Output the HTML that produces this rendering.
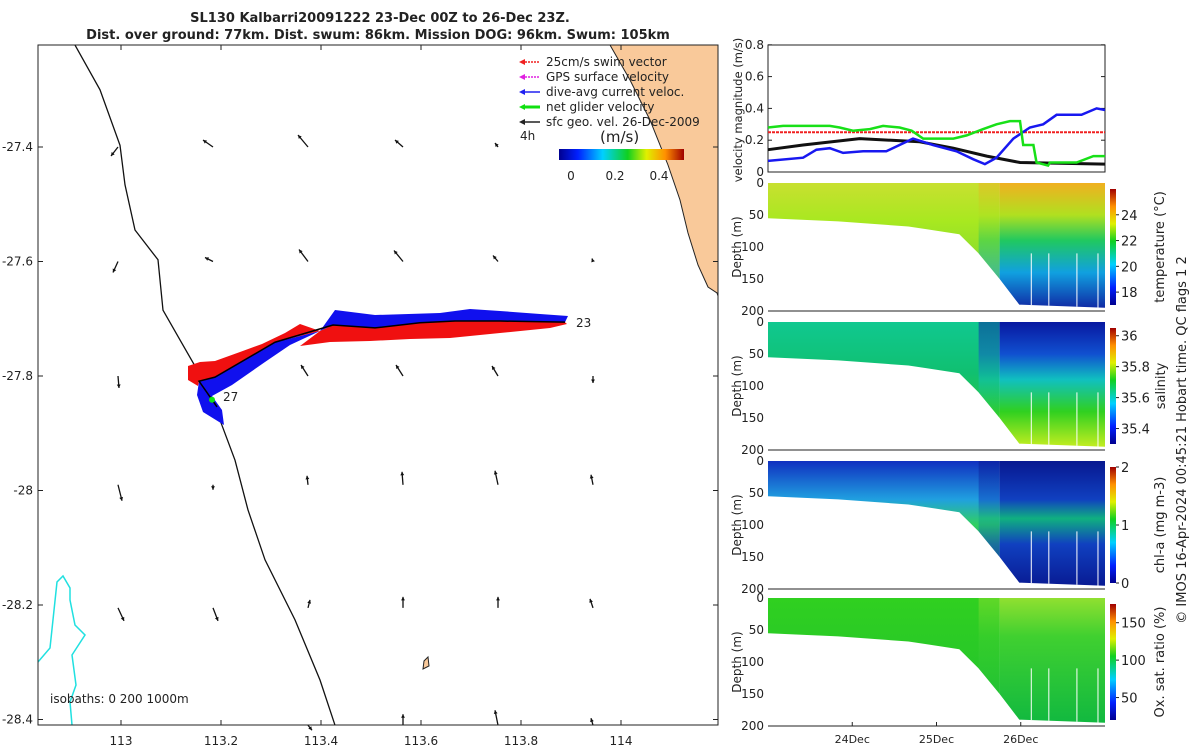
<!DOCTYPE html>
<html><head><meta charset="utf-8">
<style>
html,body{margin:0;padding:0;background:#fff;}
svg text{font-family:"DejaVu Sans","Liberation Sans",sans-serif;fill:#222;}
</style></head>
<body>
<svg id="root" width="1200" height="750" xmlns="http://www.w3.org/2000/svg">
<defs>
<linearGradient id="jet" x1="0" y1="1" x2="0" y2="0">
<stop offset="0" stop-color="#00008f"/><stop offset="0.15" stop-color="#0020ff"/><stop offset="0.35" stop-color="#00d0ff"/><stop offset="0.55" stop-color="#10d020"/><stop offset="0.7" stop-color="#e0f000"/><stop offset="0.85" stop-color="#ff9000"/><stop offset="1" stop-color="#a00000"/>
</linearGradient>
<linearGradient id="jeth" x1="0" y1="0" x2="1" y2="0">
<stop offset="0" stop-color="#00008f"/><stop offset="0.15" stop-color="#0020ff"/><stop offset="0.35" stop-color="#00d0ff"/><stop offset="0.55" stop-color="#10d020"/><stop offset="0.7" stop-color="#e0f000"/><stop offset="0.85" stop-color="#ff9000"/><stop offset="1" stop-color="#a00000"/>
</linearGradient>
<linearGradient id="tempL" x1="0" y1="0" x2="0" y2="1"><stop offset="0" stop-color="#c8e030"/><stop offset="0.3" stop-color="#a8e820"/><stop offset="1" stop-color="#60d040"/></linearGradient>
<linearGradient id="tempR" x1="0" y1="0" x2="0" y2="1"><stop offset="0" stop-color="#f0b020"/><stop offset="0.25" stop-color="#b0e020"/><stop offset="0.45" stop-color="#20c860"/><stop offset="0.7" stop-color="#10a0e0"/><stop offset="1" stop-color="#1020a0"/></linearGradient>
<linearGradient id="salL" x1="0" y1="0" x2="0" y2="1"><stop offset="0" stop-color="#10c890"/><stop offset="0.4" stop-color="#10c070"/><stop offset="1" stop-color="#40d020"/></linearGradient>
<linearGradient id="salR" x1="0" y1="0" x2="0" y2="1"><stop offset="0" stop-color="#0818a0"/><stop offset="0.25" stop-color="#1050d0"/><stop offset="0.45" stop-color="#10c0c0"/><stop offset="0.7" stop-color="#30d020"/><stop offset="1" stop-color="#d0f020"/></linearGradient>
<linearGradient id="chlL" x1="0" y1="0" x2="0" y2="1"><stop offset="0" stop-color="#1030c0"/><stop offset="0.3" stop-color="#20a0e0"/><stop offset="0.5" stop-color="#30d060"/><stop offset="1" stop-color="#0830b0"/></linearGradient>
<linearGradient id="chlR" x1="0" y1="0" x2="0" y2="1"><stop offset="0" stop-color="#081890"/><stop offset="0.3" stop-color="#1040c0"/><stop offset="0.45" stop-color="#10b080"/><stop offset="0.65" stop-color="#1040c0"/><stop offset="1" stop-color="#081890"/></linearGradient>
<linearGradient id="oxL" x1="0" y1="0" x2="0" y2="1"><stop offset="0" stop-color="#30d020"/><stop offset="1" stop-color="#20c030"/></linearGradient>
<linearGradient id="oxR" x1="0" y1="0" x2="0" y2="1"><stop offset="0" stop-color="#90e030"/><stop offset="0.3" stop-color="#40d030"/><stop offset="1" stop-color="#10b840"/></linearGradient>
</defs>
<text x="380" y="22" text-anchor="middle" font-size="13" font-weight="bold">SL130 Kalbarri20091222 23-Dec 00Z to 26-Dec 23Z.</text>
<text x="378" y="39" text-anchor="middle" font-size="13" font-weight="bold">Dist. over ground: 77km. Dist. swum: 86km. Mission DOG: 96km. Swum: 105km</text>
<g id="map"></g>
<g id="vel"></g>
<g id="sections"></g>
<text transform="translate(1186,440) rotate(-90)" text-anchor="middle" font-size="13">© IMOS 16-Apr-2024 00:45:21 Hobart time. QC flags 1  2</text>
</svg>
<script>
// ---------- data ----------
const mapXTicks=[113,113.2,113.4,113.6,113.8,114];
const mapYTicks=[-27.4,-27.6,-27.8,-28,-28.2,-28.4];
const coastLon=[112.908,112.958,112.998,113.008,113.028,113.074,113.084,113.118,113.158,113.198,113.228,113.254,113.288,113.348,113.398,113.428];
const coastLat=[-27.222,-27.300,-27.397,-27.466,-27.545,-27.597,-27.685,-27.737,-27.798,-27.877,-27.947,-28.034,-28.121,-28.226,-28.331,-28.410];
const trackLon=[113.888,113.758,113.668,113.598,113.508,113.424,113.308,113.188,113.156,113.168,113.192];
const trackLat=[-27.706,-27.704,-27.704,-27.707,-27.716,-27.711,-27.741,-27.802,-27.809,-27.824,-27.854];
const vecLon=[112.994,113.184,113.374,113.564,113.754, 112.994,113.184,113.374,113.564,113.754,113.944, 112.994,113.374,113.564,113.754,113.944, 112.994,113.184,113.374,113.564,113.754,113.944, 112.994,113.184,113.374,113.564,113.754,113.944, 113.374,113.564,113.754,113.944];
const vecLat=[-27.4,-27.4,-27.4,-27.4,-27.4,-27.6,-27.6,-27.6,-27.6,-27.6,-27.6,-27.8,-27.8,-27.8,-27.8,-27.8,-27.99,-27.99,-27.99,-27.99,-27.99,-27.99,-28.205,-28.205,-28.205,-28.205,-28.205,-28.205,-28.41,-28.41,-28.41,-28.41];
const vecU=[-0.07,-0.10,-0.10,-0.08,-0.03,-0.05,-0.08,-0.09,-0.09,-0.05,-0.01,0.01,-0.07,-0.07,-0.06,0,0.04,0,-0.01,-0.01,-0.03,-0.02,0.06,0.05,0.02,0,0,-0.03,0.04,0,-0.03,-0.02];
const vecV=[-0.09,0.07,0.12,0.07,0.04,-0.11,0.04,0.12,0.11,0.06,0.03,-0.12,0.11,0.11,0.10,-0.07,-0.16,-0.05,0.09,0.13,0.14,0.10,-0.13,-0.13,0.08,0.11,0.11,0.09,-0.05,0.11,0.15,0.07];
const velTicks=[0,0.2,0.4,0.6,0.8];
const dayTicks=["24Dec","25Dec","26Dec"];
const dayHours=[24,48,72];
const greenH=[0,4.3,10,17.6,20.4,24.2,29,32.8,37.5,40.9,44.2,52.8,56.6,61.3,65.1,68.9,71.8,72.7,75.6,76.5,79.8,80.3,87.9,92.7,96];
const greenV=[0.28,0.29,0.29,0.29,0.28,0.26,0.27,0.29,0.28,0.26,0.21,0.21,0.23,0.27,0.30,0.32,0.32,0.17,0.17,0.06,0.04,0.06,0.06,0.10,0.10];
const blueH=[0,10,13.8,17.6,21.4,27.1,33.7,41.3,47,53.7,58.5,61.8,65.1,69.9,74.6,78.4,82.2,89.3,93.6,96];
const blueV=[0.07,0.09,0.14,0.15,0.12,0.13,0.13,0.21,0.17,0.13,0.08,0.05,0.09,0.21,0.28,0.30,0.36,0.36,0.40,0.39];
const blackH=[0,10,26.1,43.2,52.8,62.3,71.8,96];
const blackV=[0.14,0.17,0.21,0.19,0.15,0.10,0.06,0.05];
const swimSpeed=0.25;
const bottomH=[0,20,40,45,54.5,60,66,71.6,96];
const bottomD=[55,60,68,72,80,110,150,190,195];
const depthTicks=[0,50,100,150,200];
const panelLabels=["temperature (°C)","salinity","chl-a (mg m-3)","Ox. sat. ratio (%)"];
const cbTicks=[[18,20,22,24],[35.4,35.6,35.8,36],[0,1,2],[50,100,150]];
const cbRange=[[17,26],[35.3,36.05],[0,2],[20,175]];
const panelFill=[["tempL","tempR"],["salL","salR"],["chlL","chlR"],["oxL","oxR"]];
// ---------- helpers ----------
const NS="http://www.w3.org/2000/svg";
function mk(tag,attrs,parent){const e=document.createElementNS(NS,tag);for(const k in attrs)e.setAttribute(k,attrs[k]);parent.appendChild(e);return e;}
const lx=lon=>121+(lon-113)*500;
const ly=lat=>147-(lat+27.4)*572.5;
const VX0=768,VX1=1105;
const tx=h=>VX0+(VX1-VX0)*h/96;
const vy=v=>172-v*159;
// ---------- map ----------
const map=document.getElementById('map');
const land=mk('path',{d:"M610,45 L630,80 L650,120 L668,165 L680,200 L688,233 L698,265 L708,287 L717,293 L718,296 L718,45 Z",fill:"#f9c99a",stroke:"#222","stroke-width":1},map);


const iso=mk('path',{d:"M38,662 L50,648 L57,582 L63,576 L70,588 L70,600 L75,625 L85,635 L72,655 L76,685 L70,702 L72,725",fill:"none",stroke:"#20e0e0","stroke-width":1.5},map);


const island=mk('path',{d:"M424,661 L428,657 L429,666 L423,669 Z",fill:"#f9c99a",stroke:"#222"},map);


let cd="";coastLon.forEach((v,i)=>cd+=(i?"L":"M")+lx(v)+","+ly(coastLat[i]));
const coast=mk('path',{d:cd,fill:"none",stroke:"#111","stroke-width":1.3},map);


// track bands (decoration shapes relative to track)
const TP=trackLon.map((v,i)=>[lx(v),ly(trackLat[i])]);
function poly(pts,color,name){const p=mk('path',{d:"M"+pts.map(q=>q[0].toFixed(1)+","+q[1].toFixed(1)).join("L")+"Z",fill:color},map);
 
 }
const cross=[320,331];
poly([...TP.slice(0,6),cross,[335,310],[375,315],[440,313],[470,309],[500,311],[540,314],[568,316]],"#1010ee","dive-avg-current-band-east");
poly([cross,TP[6],TP[7],TP[8],[197,395],[203,412],[224,425],[222,410],[212,396],[232,385],[265,362],[290,345]],"#1010ee","dive-avg-current-band-west");
let redE=[...TP.slice(0,6),cross,[300,346],[330,342],[370,341],[410,339],[450,338],[500,333],[550,328],[567,324]];
poly(redE,"#f01010","swim-vector-band-east");
poly([cross,TP[6],TP[7],TP[8],[198,386],[188,380],[188,366],[200,362],[215,361],[240,352],[262,344],[285,333],[300,324]],"#f01010","swim-vector-band-west");
let td="";TP.forEach((q,i)=>td+=(i?"L":"M")+q[0]+","+q[1]);
const tr=mk('path',{d:td,fill:"none",stroke:"#000","stroke-width":1.5},map);


const gs=mk('circle',{cx:TP[9][0]+7,cy:TP[9][1]+10,r:3,fill:"#10e010"},map);


[["23",576,327],["27",223,401]].forEach(t=>{const e=mk('text',{x:t[1],y:t[2],"font-size":12},map);e.textContent=t[0];
 
 });
// vectors
vecLon.forEach((lon,i)=>{const x0=lx(lon),y0=ly(vecLat[i]);const x1=x0+vecU[i]*100,y1=y0-vecV[i]*100;
 const g=mk('g',{},map);
 
 
 mk('line',{x1:x0,y1:y0,x2:x1,y2:y1,stroke:"#111","stroke-width":1.3},g);
 const a=Math.atan2(y1-y0,x1-x0);
 mk('path',{d:`M${x1},${y1}L${x1-4*Math.cos(a-0.5)},${y1-4*Math.sin(a-0.5)}L${x1-4*Math.cos(a+0.5)},${y1-4*Math.sin(a+0.5)}Z`,fill:"#111"},g);});
// axes box
const mb=mk('rect',{x:38,y:45,width:680,height:680,fill:"none",stroke:"#222","stroke-width":1},map);


mapXTicks.forEach(t=>{const x=lx(t);mk('line',{x1:x,x2:x,y1:725,y2:720,stroke:"#222"},map);mk('line',{x1:x,x2:x,y1:45,y2:50,stroke:"#222"},map);
 const e=mk('text',{x:x,y:745,"text-anchor":"middle","font-size":12},map);e.textContent=String(t);
 
 });
mapYTicks.forEach(t=>{const y=ly(t);mk('line',{x1:38,x2:43,y1:y,y2:y,stroke:"#222"},map);mk('line',{x1:718,x2:713,y1:y,y2:y,stroke:"#222"},map);
 const e=mk('text',{x:33,y:y+4,"text-anchor":"end","font-size":12},map);e.textContent=String(t);
 
 });
const isoT=mk('text',{x:50,y:703,"font-size":12},map);isoT.textContent="isobaths: 0   200  1000m";


// legend
const legItems=[["25cm/s swim vector","#f02020"],["GPS surface velocity","#e020e0"],["dive-avg current veloc.","#2020f0"],["net glider velocity","#10e010"],["sfc geo. vel. 26-Dec-2009","#222"]];
legItems.forEach((it,i)=>{const y=62+i*15;const g=mk('g',{},map);
 
 
 mk('line',{x1:522,x2:540,y1:y,y2:y,stroke:it[1],"stroke-width":i==3?3:1.5,"stroke-dasharray":i<2?"2,1":""},g);
 mk('path',{d:`M519,${y}L525,${y-3}L525,${y+3}Z`,fill:it[1]},g);
 const t=mk('text',{x:546,y:y+4,"font-size":12},g);t.textContent=it[0];});
const t4=mk('text',{x:520,y:140,"font-size":12},map);t4.textContent="4h";


const cbm=mk('rect',{x:559,y:149,width:125,height:11,fill:"url(#jeth)"},map);


const ms=mk('text',{x:600,y:142,"font-size":15},map);ms.textContent="(m/s)";


[["0",571],["0.2",615],["0.4",659]].forEach(a=>{const e=mk('text',{x:a[1],y:180,"text-anchor":"middle","font-size":12},map);e.textContent=a[0];
 
 });
// ---------- velocity panel ----------
const vel=document.getElementById('vel');
const vb=mk('rect',{x:VX0,y:45,width:VX1-VX0,height:127,fill:"#fff",stroke:"#222"},vel);


velTicks.forEach(t=>{const y=vy(t);mk('line',{x1:VX0,x2:VX0+4,y1:y,y2:y,stroke:"#222"},vel);mk('line',{x1:VX1,x2:VX1-4,y1:y,y2:y,stroke:"#222"},vel);
 const e=mk('text',{x:VX0-4,y:y+4,"text-anchor":"end","font-size":12},vel);e.textContent=String(t);
 
 });
const vyl=mk('text',{transform:"translate(742,110) rotate(-90)","text-anchor":"middle","font-size":11.5},vel);vyl.textContent="velocity magnitude (m/s)";


function series(H,V,color,name,w){let d="";H.forEach((h,i)=>d+=(i?"L":"M")+tx(h).toFixed(1)+","+vy(V[i]).toFixed(1));
 const p=mk('path',{d:d,fill:"none",stroke:color,"stroke-width":w},vel);
 
 }
const sw=mk('line',{x1:tx(0),x2:tx(96),y1:vy(swimSpeed),y2:vy(swimSpeed),stroke:"#f02020","stroke-width":2,"stroke-dasharray":"3,1"},vel);


series(blackH,blackV,"#111","geostrophic-velocity-line",3);
series(blueH,blueV,"#1818f0","dive-avg-current-line",2.5);
series(greenH,greenV,"#18e018","net-glider-velocity-line",2.5);
// ---------- sections ----------
const sec=document.getElementById('sections');
const tops=[183,322,461,598];
tops.forEach((top,p)=>{const dy=d=>top+d*128/200;
 const g=mk('g',{},sec);
 
 
 let d="M"+tx(0)+","+dy(0)+"L"+tx(96)+","+dy(0);
 for(let i=bottomH.length-1;i>=0;i--)d+="L"+tx(bottomH[i]).toFixed(1)+","+dy(bottomD[i]).toFixed(1);
 d+="Z";
 const cid="clip"+p;const cp=mk('clipPath',{id:cid},g);mk('path',{d:d},cp);
 const cg=mk('g',{"clip-path":`url(#${cid})`},g);
 mk('rect',{x:tx(0),y:top,width:tx(66)-tx(0),height:128,fill:`url(#${panelFill[p][0]})`},cg);
 mk('rect',{x:tx(66),y:top,width:tx(96)-tx(66),height:128,fill:`url(#${panelFill[p][1]})`},cg);
 mk('path',{d:`M${tx(60)},${top} L${tx(72)},${top} L${tx(72)},${top+128} L${tx(60)},${top+128}Z`,fill:`url(#${panelFill[p][1]})`,opacity:0.5},cg);
 [75,80,88,94].forEach(h=>mk('line',{x1:tx(h),x2:tx(h),y1:dy(110),y2:dy(200),stroke:"#fff","stroke-width":1},cg));
 mk('line',{x1:VX0,x2:VX1,y1:top+128,y2:top+128,stroke:"#222"},g);
 if(p==3)dayHours.forEach((h,i)=>{mk('line',{x1:tx(h),x2:tx(h),y1:top+128,y2:top+124,stroke:"#222"},g);
  const e=mk('text',{x:tx(h),y:top+145,"text-anchor":"middle","font-size":11},g);e.textContent=dayTicks[i];
  
  });
 depthTicks.forEach(t=>{const e=mk('text',{x:VX0-4,y:dy(t)+4,"text-anchor":"end","font-size":12},g);e.textContent=String(t);
  
  });
 const yl=mk('text',{transform:`translate(741,${top+64}) rotate(-90)`,"text-anchor":"middle","font-size":12},g);yl.textContent="Depth (m)";
 
 
 const cb=mk('rect',{x:1110,y:top+6,width:6,height:116,fill:"url(#jet)"},g);
 
 
 const r=cbRange[p];
 cbTicks[p].forEach(t=>{const y=top+122-(t-r[0])/(r[1]-r[0])*116;
  mk('line',{x1:1116,x2:1119,y1:y,y2:y,stroke:"#222"},g);
  const e=mk('text',{x:1121,y:y+5,"font-size":13},g);e.textContent=String(t);
  
  });
 const ct=mk('text',{transform:`translate(${p==1?1165:1164},${top+64}) rotate(-90)`,"text-anchor":"middle","font-size":13},g);ct.textContent=panelLabels[p];
 
 
});
</script>
</body></html>
